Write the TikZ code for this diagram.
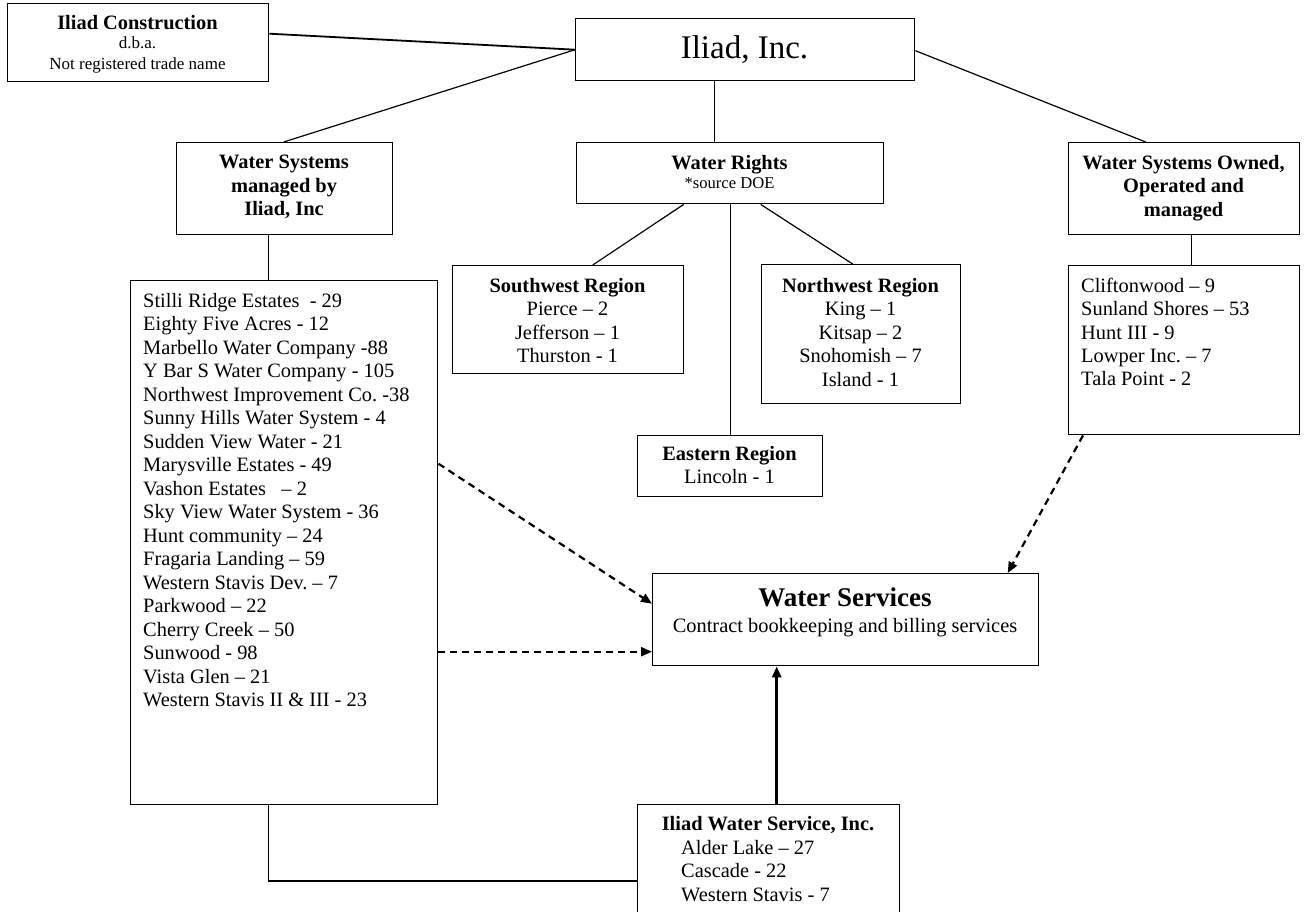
\documentclass[tikz,border=0pt]{standalone}
\usepackage{fontspec}
\setmainfont{Liberation Serif}
\usetikzlibrary{arrows.meta}
\frenchspacing
\begin{document}
\begin{tikzpicture}[x=1pt,y=-1pt,
  box/.style={draw, line width=1.4pt, inner sep=0pt, anchor=north west},
  txt/.style={inner sep=0pt, align=center, anchor=north, font=\fontsize{20.4}{23.5}\selectfont},
  btxt/.style={txt, font=\fontsize{20.4}{23.5}\selectfont\bfseries},
  ltxt/.style={inner sep=0pt, align=left, anchor=north west, font=\fontsize{20.4}{23.5}\selectfont},
  conn/.style={line width=1.2pt},
  dasharrow/.style={line width=2.2pt, dash pattern=on 7pt off 5pt, -{Triangle[length=11pt,width=9pt]}},
  solidarrow/.style={line width=2.8pt, -{Triangle[length=11pt,width=9pt]}}
]
\useasboundingbox (0,0) rectangle (1306,911);
\clip (0,0) rectangle (1306,911);
\fill[white] (0,0) rectangle (1306,911);

% Iliad Construction
\node[box, minimum width=261pt, minimum height=78pt] (con) at (7,3) {};
\node[btxt] (con-t) at (137.5,15) {Iliad Construction};
\node[txt, font=\fontsize{17}{20.3}\selectfont] (con-s) at (137.5,37) {d.b.a.\\Not registered trade name};

% Iliad, Inc.
\node[box, minimum width=339pt, minimum height=62pt] (inc) at (575,18) {};
\node[txt, font=\fontsize{33}{38}\selectfont] (inc-t) at (744.5,35) {Iliad, Inc.};

% Water Systems managed by Iliad, Inc
\node[box, minimum width=216pt, minimum height=92pt] (wsm) at (176,142) {};
\node[btxt] (wsm-t) at (284,155) {Water Systems\\managed by\\Iliad, Inc};

% Water Rights
\node[box, minimum width=307pt, minimum height=61pt] (wr) at (576,142) {};
\node[btxt] (wr-t) at (729.5,155) {Water Rights};
\node[txt, font=\fontsize{16.6}{19}\selectfont] (wr-s) at (729.5,177) {*source DOE};

% Water Systems Owned
\node[box, minimum width=231pt, minimum height=92pt] (wso) at (1068,142) {};
\node[btxt] (wso-t) at (1183.5,155) {Water Systems Owned,\\Operated and\\managed};

% Southwest Region
\node[box, minimum width=231pt, minimum height=108pt] (sw) at (452,265) {};
\node[txt] (sw-t) at (567.5,278) {\textbf{Southwest Region}\\Pierce – 2\\Jefferson – 1\\Thurston - 1};

% Northwest Region
\node[box, minimum width=199pt, minimum height=139pt] (nw) at (761,264) {};
\node[txt] (nw-t) at (860.5,278) {\textbf{Northwest Region}\\King – 1\\Kitsap – 2\\Snohomish – 7\\Island - 1};

% Eastern Region
\node[box, minimum width=185pt, minimum height=61pt] (ea) at (637,435) {};
\node[txt] (ea-t) at (729.5,446) {\textbf{Eastern Region}\\Lincoln - 1};

% Managed list
\node[box, minimum width=307pt, minimum height=524pt] (lst) at (130,280) {};
\node[ltxt] (lst-t) at (143,293) {Stilli Ridge Estates\ \ - 29\\Eighty Five Acres - 12\\Marbello Water Company -88\\Y Bar S Water Company - 105\\Northwest Improvement Co. -38\\Sunny Hills Water System - 4\\Sudden View Water - 21\\Marysville Estates - 49\\Vashon Estates\ \ \ – 2\\Sky View Water System - 36\\Hunt community – 24\\Fragaria Landing – 59\\Western Stavis Dev. – 7\\Parkwood – 22\\Cherry Creek – 50\\Sunwood - 98\\Vista Glen – 21\\Western Stavis II \& III - 23};

% Owned list
\node[box, minimum width=231pt, minimum height=169pt] (wsol) at (1068,265) {};
\node[ltxt, font=\fontsize{20.4}{23.3}\selectfont] (wsol-t) at (1081,278) {Cliftonwood – 9\\Sunland Shores – 53\\Hunt III - 9\\Lowper Inc. – 7\\Tala Point - 2};

% Water Services
\node[box, minimum width=386pt, minimum height=92pt] (ws) at (652,573) {};
\node[btxt, font=\fontsize{27}{31}\selectfont\bfseries] (ws-t) at (845,587.5) {Water Services};
\node[txt] (ws-s) at (845,618) {Contract bookkeeping and billing services};

% Iliad Water Service, Inc.
\node[box, minimum width=262pt, minimum height=130pt] (iws) at (637,804) {};
\node[btxt] (iws-t) at (768,816) {Iliad Water Service, Inc.};
\node[ltxt] (iws-l) at (681,840) {Alder Lake – 27\\Cascade - 22\\Western Stavis - 7};

% connectors
\draw[line width=1.8pt] ([yshift=9pt]con.east) -- (inc.west);
\draw[conn] (inc.west) -- ([xshift=-1pt]wsm.north);
\draw[conn] ([xshift=-30.5pt]inc.south) -- ([xshift=-30.5pt]inc.south |- wr.north);
\draw[conn] ([yshift=-1pt]inc.east) -- ([xshift=-38.5pt]wso.north);
\draw[conn] ([xshift=-46.5pt]wr.south) -- ([xshift=24.5pt]sw.north);
\draw[conn] (wr.south) -- (ea.north);
\draw[conn] ([xshift=30.5pt]wr.south) -- ([xshift=-8.5pt]nw.north);
\draw[conn] ([xshift=-16pt]wsm.south) -- ([xshift=-16pt]wsm.south |- lst.north);
\draw[conn] ([xshift=7.5pt]wso.south) -- ([xshift=7.5pt]wso.south |- wsol.north);
\draw[conn] ([xshift=-15.5pt]lst.south) |- ([yshift=-77pt]iws.north west);

% arrows
\draw[dasharrow] ([yshift=79pt]lst.east) -- ([yshift=16pt]ws.west);
\draw[dasharrow] ([yshift=-109pt]lst.east) -- ([yshift=-32pt]ws.west);
\draw[dasharrow] ([xshift=15pt]wsol.south west) -- ([xshift=162pt]ws.north);
\draw[solidarrow] ([xshift=8pt]iws.north) -- ([xshift=8pt]iws.north |- ws.south);
\end{tikzpicture}
\end{document}
